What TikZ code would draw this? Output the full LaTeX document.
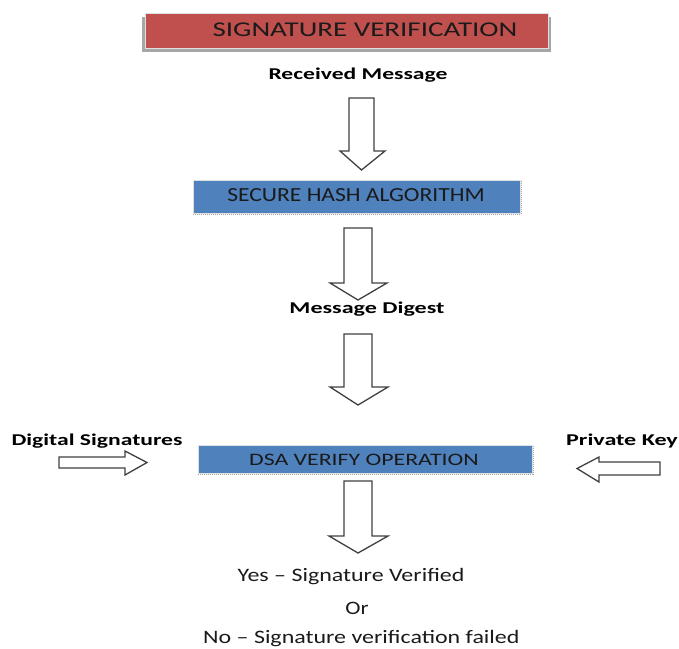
\documentclass[tikz,border=0pt]{standalone}
\usepackage{fontspec}
\setmainfont{Carlito}
\definecolor{titlered}{HTML}{C0504D}
\definecolor{boxblue}{HTML}{4F81BD}
\definecolor{inktext}{HTML}{1A1A1A}
% hollow block arrow pointing down: shaft left/right, top, head start, head left/right, tip
\newcommand{\hollowdown}[7]{%
  \draw[blockarrow] (#1,#3) -- (#2,#3) -- (#2,#4) -- (#6,#4) -- ({(#1+#2)/2},#7) -- (#5,#4) -- (#1,#4) -- cycle;}
% hollow block arrow pointing sideways: tail x, head-start x, tip x, shaft top/bottom, head top/bottom
\newcommand{\hollowside}[7]{%
  \draw[blockarrow] (#1,#4) -- (#2,#4) -- (#2,#6) -- (#3,{(#4+#5)/2}) -- (#2,#7) -- (#2,#5) -- (#1,#5) -- cycle;}
% text set wider than the font's natural width
\newcommand{\wide}[2]{\scalebox{#1}[1]{#2}}
\begin{document}
\begin{tikzpicture}[x=1pt,y=-1pt,
  blockarrow/.style={draw=black!75, line width=1.3pt, fill=white, line join=miter},
  stepbox/.style={draw=black!12, line width=0.8pt},
  boxtext/.style={text=inktext, font=\fontsize{19}{19}\selectfont},
  boldlabel/.style={text=black, font=\bfseries\fontsize{16.5}{16.5}\selectfont},
  plainlabel/.style={text=inktext, font=\fontsize{19}{19}\selectfont}]
\useasboundingbox (0,0) rectangle (679,648);

% title bar with its shadow
\fill[black!35] (142,17) rectangle (551,52);
\fill[titlered] (145,13) rectangle (548,48);
\draw[stepbox] (145,13) rectangle (548,48);
\node[boxtext, font=\fontsize{21}{21}\selectfont] (title) at (365,30) {\wide{1.38}{SIGNATURE VERIFICATION}};

\node[boldlabel] (recv) at (358,75) {\wide{1.43}{Received Message}};
\hollowdown{349}{374}{98}{151}{340}{385}{170}

% hashing step
\draw[black!35, dash pattern=on 1pt off 1pt] (193,214) -- (521,214) -- (521,180);
\fill[boxblue] (193,180) rectangle (520,213);
\draw[stepbox] (193,180) rectangle (520,213);
\node[boxtext, font=\fontsize{20}{20}\selectfont] (sha) at (356,195) {\wide{1.18}{SECURE HASH ALGORITHM}};

\hollowdown{344}{372}{228}{283}{330}{387}{300}
\node[boldlabel] (digest) at (367,309) {\wide{1.46}{Message Digest}};
\hollowdown{344}{372}{334}{387}{330}{388}{405}

% verification step with its two inputs
\draw[black!35, dash pattern=on 1pt off 1pt] (198,474) -- (533,474) -- (533,445);
\fill[boxblue] (198,445) rectangle (532,473);
\draw[stepbox] (198,445) rectangle (532,473);
\node[boxtext, font=\fontsize{17.5}{17.5}\selectfont] (dsa) at (364,460) {\wide{1.36}{DSA VERIFY OPERATION}};

\node[boldlabel] (dsig) at (97,441) {\wide{1.43}{Digital Signatures}};
\hollowside{59}{125}{147}{457}{468}{451}{475}
\node[boldlabel] (pkey) at (622,441) {\wide{1.46}{Private Key}};
\hollowside{660}{599}{577}{462}{475}{457}{482}

\hollowdown{344}{372}{481}{536}{329}{388}{553}

% outcome
\node[plainlabel, anchor=base] (yes) at (351,581) {\wide{1.26}{Yes – Signature Verified}};
\node[plainlabel, anchor=base] (or) at (357,614) {\wide{1.21}{Or}};
\node[plainlabel, anchor=base west, inner sep=0pt] (no) at (203,643) {\wide{1.26}{No – Signature verification failed}};
\end{tikzpicture}
\end{document}
